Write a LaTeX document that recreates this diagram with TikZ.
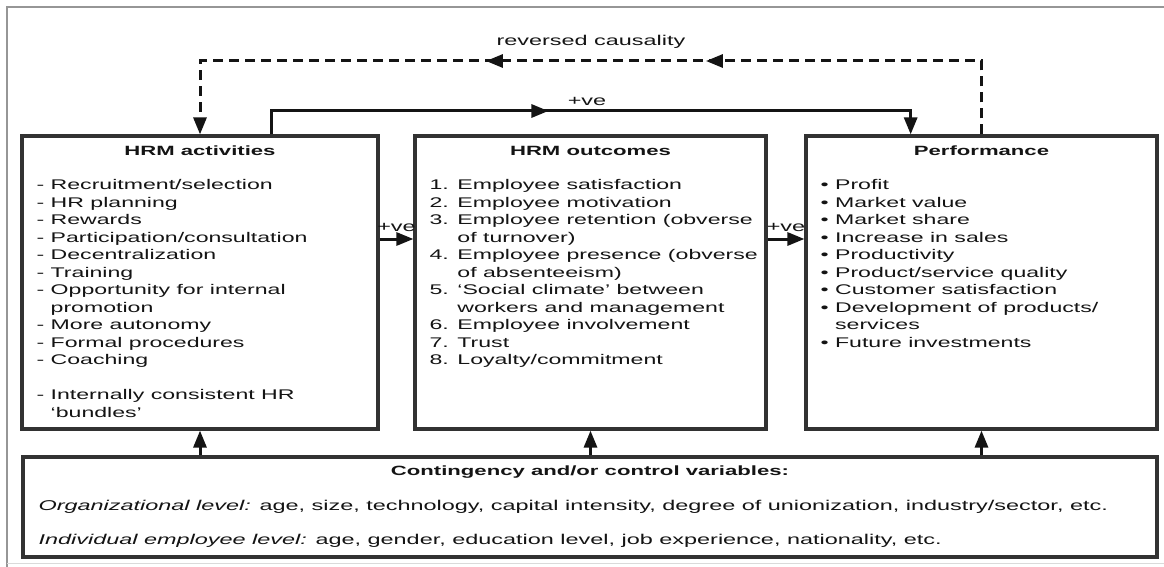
\documentclass[tikz,border=0pt]{standalone}
\usepackage{fontspec}
\setmainfont{Liberation Sans}[FakeStretch=1.65]
\usetikzlibrary{arrows.meta,calc,decorations.markings}
\definecolor{boxgray}{RGB}{50,50,50}
\definecolor{rulegray}{RGB}{150,150,150}
\definecolor{inkgray}{RGB}{20,20,20}

\begin{document}
\begin{tikzpicture}[x=1pt,y=-1pt,>={Triangle[length=17pt,width=13pt]},
    every node/.style={inner sep=0pt,text=inkgray},
    box/.style={draw=boxgray,line width=3.2pt,minimum height=293pt},
    ttl/.style={font=\fontsize{13.4}{16}\selectfont\bfseries,anchor=base},
    lst/.style={font=\fontsize{14}{17.5}\selectfont,align=left,anchor=north west},
    lbl/.style={font=\fontsize{14.2}{17.5}\selectfont,anchor=base},
    conn/.style={draw=inkgray,line width=3pt},
    dconn/.style={conn,dash pattern=on 10pt off 6pt},
    midarrow/.style={postaction={decorate},decoration={markings,mark=at position #1 with {\arrow{>}}}}]
  \fill[white] (0,0) rectangle (1164,567);
  \useasboundingbox (0,0) rectangle (1164,567);
  \draw[rulegray,line width=1.5pt] (1164,7) -- (7,7) -- (7,567);
  \draw[rulegray!35,line width=1pt] (7,563) -- (1164,563);

  \node[box,minimum width=356pt] (acts) at (200,282.5) {};
  \node[box,minimum width=351pt] (outs) at (590.5,282.5) {};
  \node[box,minimum width=351pt] (perf) at (981.5,282.5) {};
  \node[box,minimum width=1134pt,minimum height=100pt] (ctrl) at (590,507) {};

  \node[ttl] (actsttl) at ([yshift=-21pt]acts.north) {HRM activities};
  \node[ttl] (outsttl) at ([yshift=-21pt]outs.north) {HRM outcomes};
  \node[ttl] (perfttl) at ([yshift=-21pt]perf.north) {Performance};

  \node[lst] (actslst) at ([xshift=16pt,yshift=-45pt]acts.north west) {%
    - Recruitment/selection\\
    - HR planning\\
    - Rewards\\
    - Participation/consultation\\
    - Decentralization\\
    - Training\\
    - Opportunity for internal\\
    \phantom{- }promotion\\
    - More autonomy\\
    - Formal procedures\\
    - Coaching\\[17.5pt]
    - Internally consistent HR\\
    \phantom{- }‘bundles’};
  \node[lst] (outslst) at ([xshift=16pt,yshift=-45pt]outs.north west) {%
    1. Employee satisfaction\\
    2. Employee motivation\\
    3. Employee retention (obverse\\
    \phantom{3. }of turnover)\\
    4. Employee presence (obverse\\
    \phantom{4. }of absenteeism)\\
    5. ‘Social climate’ between\\
    \phantom{5. }workers and management\\
    6. Employee involvement\\
    7. Trust\\
    8. Loyalty/commitment};
  \node[lst] (perflst) at ([xshift=16pt,yshift=-45pt]perf.north west) {%
    \textbullet\ Profit\\
    \textbullet\ Market value\\
    \textbullet\ Market share\\
    \textbullet\ Increase in sales\\
    \textbullet\ Productivity\\
    \textbullet\ Product/service quality\\
    \textbullet\ Customer satisfaction\\
    \textbullet\ Development of products/\\
    \phantom{\textbullet\ }services\\
    \textbullet\ Future investments};

  % +ve links between the three columns
  \draw[conn,->] ([yshift=43.5pt]acts.east) -- ([yshift=43.5pt]outs.west);
  \draw[conn,->] ([yshift=43.5pt]outs.east) -- ([yshift=43.5pt]perf.west);
  \node[lbl] (ve1) at ($(acts.east)!0.5!(outs.west)+(0,-51.5)$) {+ve};
  \node[lbl] (ve2) at ($(outs.east)!0.5!(perf.west)+(0,-51.5)$) {+ve};

  % direct link over the top
  \coordinate (solidtop) at (0,111);
  \coordinate (s0) at ($(acts.north west)!0.7!(acts.north east)$);
  \coordinate (s1) at ($(perf.north west)!0.3!(perf.north east)$);
  \draw[conn,->,midarrow=300pt] (s0) -- (s0 |- solidtop) -- (s1 |- solidtop) -- (s1);
  \node[lbl] (vetop) at (587,106) {+ve};

  % feedback loop
  \coordinate (dashtop) at (0,61);
  \draw[dconn,->,postaction={decorate},
    decoration={markings,mark=at position 349pt with {\arrow{>}},mark=at position 569pt with {\arrow{>}}}]
    (perf.north) -- (perf.north |- dashtop) -- (acts.north |- dashtop) -- (acts.north);
  \node[lbl] (revlbl) at (591,46) {reversed causality};

  \foreach \b in {acts,outs,perf}
    \draw[conn,->] (ctrl.north -| \b.south) -- (\b.south);

  \node[ttl] (ctrlttl) at ([yshift=-20pt]ctrl.north) {Contingency and/or control variables:};
  \node[lbl,anchor=base west] (orglvl) at ([xshift=17pt,yshift=-55pt]ctrl.north west)
    {\textit{Organizational level:} age, size, technology, capital intensity, degree of unionization, industry/sector, etc.};
  \node[lbl,anchor=base west] (indlvl) at ([yshift=-34pt]orglvl.base west)
    {\textit{Individual employee level:} age, gender, education level, job experience, nationality, etc.};
\end{tikzpicture}
\end{document}
